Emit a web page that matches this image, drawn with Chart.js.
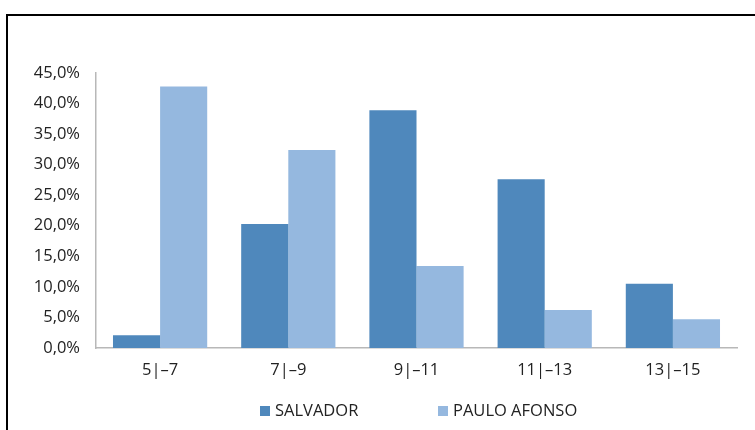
<!DOCTYPE html>
<html>
<head>
<meta charset="utf-8">
<script src="https://cdn.jsdelivr.net/npm/chart.js@4/dist/chart.umd.min.js"></script>
<style>
html,body{margin:0;padding:0;background:#fff;}
canvas{display:block;}
</style>
</head>
<body>
<canvas id="c" width="755" height="430"></canvas>
<script>
const categories = ["5|–7", "7|–9", "9|–11", "11|–13", "13|–15"];
const salvador = [2.1, 20.3, 38.9, 27.6, 10.5];
const pauloAfonso = [42.8, 32.4, 13.4, 6.2, 4.7];
const seriesNames = ["SALVADOR", "PAULO AFONSO"];
const seriesColors = ["#4F88BC", "#95B8DF"];

const FONT = "'Open Sans', sans-serif";

const framePlugin = {
  id: 'frame',
  beforeDraw(chart) {
    const ctx = chart.ctx;
    ctx.save();
    ctx.fillStyle = '#fff';
    ctx.fillRect(0, 0, chart.width, chart.height);
    ctx.strokeStyle = '#000';
    ctx.lineWidth = 2;
    ctx.strokeRect(7, 15, 800, 500);
    ctx.restore();
  }
};

// custom legend drawn with the dataset labels/colours (wide item spacing as in the reference)
const legendPlugin = {
  id: 'wideLegend',
  afterDraw(chart) {
    const ctx = chart.ctx;
    const xs = [260, 438];
    const y = 411;
    ctx.save();
    ctx.font = '16.5px ' + FONT;
    ctx.textBaseline = 'middle';
    ctx.textAlign = 'left';
    chart.data.datasets.forEach((ds, i) => {
      ctx.fillStyle = ds.backgroundColor;
      ctx.fillRect(xs[i], y - 5, 10, 10);
      ctx.fillStyle = '#222';
      ctx.fillText(ds.label, xs[i] + 15, y);
    });
    ctx.restore();
  }
};

new Chart(document.getElementById('c'), {
  type: 'bar',
  data: {
    labels: categories,
    datasets: [
      { label: seriesNames[0], data: salvador, backgroundColor: seriesColors[0], borderWidth: 0 },
      { label: seriesNames[1], data: pauloAfonso, backgroundColor: seriesColors[1], borderWidth: 0 }
    ]
  },
  options: {
    responsive: false,
    animation: false,
    devicePixelRatio: 1,
    layout: { padding: { left: 0, right: 18, top: 73, bottom: 42 } },
    datasets: { bar: { categoryPercentage: 0.735, barPercentage: 1.0 } },
    plugins: {
      legend: { display: false },
      tooltip: { enabled: false }
    },
    scales: {
      x: {
        grid: { display: false, drawTicks: false },
        border: { display: true, color: '#b8b8b8', width: 1.5 },
        ticks: { font: { family: FONT, size: 16.5 }, color: '#222', padding: 12 },
        afterFit(s) { s.height = 40; }
      },
      y: {
        min: 0, max: 45,
        grid: { display: false, drawTicks: false },
        border: { display: true, color: '#b8b8b8', width: 1.5 },
        ticks: {
          stepSize: 5,
          font: { family: FONT, size: 16.5 },
          color: '#222',
          padding: 16,
          callback: v => v.toFixed(1).replace('.', ',') + '%'
        },
        afterFit(s) { s.width = 96; }
      }
    }
  },
  plugins: [framePlugin, legendPlugin]
});
</script>
</body>
</html>
